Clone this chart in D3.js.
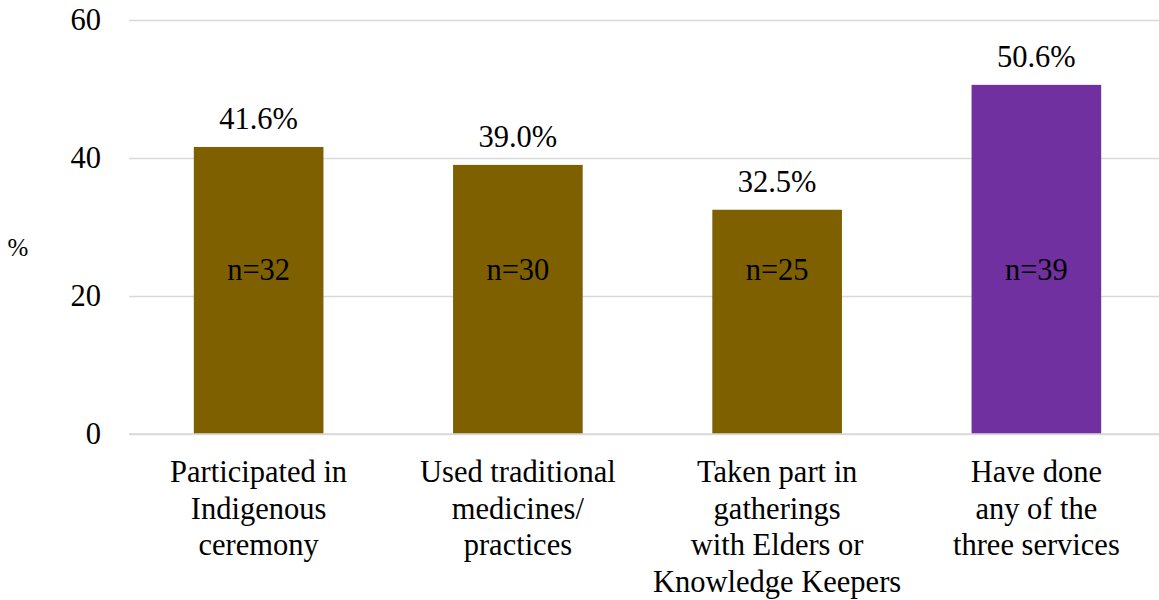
<!DOCTYPE html>
<html>
<head>
<meta charset="utf-8">
<script src="https://cdn.jsdelivr.net/npm/d3@7"></script>
</head>
<body style="margin:0;padding:0;background:#fff">
<svg id="chart" width="1159" height="600" style="display:block;background:#fff"></svg>
<script>
const categories = [
  ["Participated in", "Indigenous", "ceremony"],
  ["Used traditional", "medicines/", "practices"],
  ["Taken part in", "gatherings", "with Elders or", "Knowledge Keepers"],
  ["Have done", "any of the", "three services"]
];
const values = [41.6, 39.0, 32.5, 50.6];
const counts = ["n=32", "n=30", "n=25", "n=39"];
const barColors = ["#7F6000", "#7F6000", "#7F6000", "#7030A0"];
const yTicks = [0, 20, 40, 60];
const countLabelLevel = 22.3;

(function () {
const FONT = "Liberation Serif";
const FS = "30.5px";
const svg = d3.select("#chart");
const mLeft = 129, mRight = 1166, mTop = 20, mBottom = 434;

function styleText(sel, size) {
  return sel.style("font-family", FONT, "important")
    .style("font-size", size || FS, "important")
    .attr("fill", "#000");
}

const x = d3.scaleBand()
  .domain(d3.range(values.length))
  .range([mLeft, mRight])
  .paddingInner(0.5)
  .paddingOuter(0.25);

const y = d3.scaleLinear().domain([0, 60]).range([mBottom, mTop]);

// gridlines (axis) - lines only, labels drawn separately
const yAxis = d3.axisLeft(y).tickValues(yTicks).tickSize(-(mRight - mLeft)).tickFormat("");
const gy = svg.append("g").attr("transform", `translate(${mLeft},0)`).call(yAxis);
gy.select(".domain").remove();
gy.selectAll(".tick line").attr("stroke", "#d9d9d9").attr("stroke-width", 1.5);
gy.selectAll(".tick text").remove();

// y tick labels
styleText(svg.selectAll("text.ytick")
  .data(yTicks)
  .join("text")
  .attr("class", "ytick")
  .attr("x", mLeft - 28)
  .attr("y", d => y(d))
  .attr("dy", "0.33em")
  .attr("text-anchor", "end")
  .text(d => d));

// bars
svg.append("g").selectAll("rect")
  .data(values)
  .join("rect")
  .attr("x", (d, i) => x(i))
  .attr("y", d => y(d))
  .attr("width", x.bandwidth())
  .attr("height", d => y(0) - y(d))
  .attr("fill", (d, i) => barColors[i]);

// baseline on top of bars
svg.append("line")
  .attr("x1", mLeft).attr("x2", mRight)
  .attr("y1", y(0)).attr("y2", y(0))
  .attr("stroke", "#d9d9d9").attr("stroke-width", 1.5);

// value labels
styleText(svg.selectAll("text.val")
  .data(values)
  .join("text")
  .attr("class", "val")
  .attr("x", (d, i) => x(i) + x.bandwidth() / 2)
  .attr("y", d => y(d) - 18)
  .attr("text-anchor", "middle")
  .text(d => d.toFixed(1) + "%"));

// count labels
styleText(svg.selectAll("text.cnt")
  .data(counts)
  .join("text")
  .attr("class", "cnt")
  .attr("x", (d, i) => x(i) + x.bandwidth() / 2)
  .attr("y", y(countLabelLevel))
  .attr("text-anchor", "middle")
  .text(d => d));

// category labels
const cat = styleText(svg.selectAll("text.cat")
  .data(categories)
  .join("text")
  .attr("class", "cat")
  .attr("x", (d, i) => x(i) + x.bandwidth() / 2)
  .attr("y", mBottom + 48)
  .attr("text-anchor", "middle"));
cat.selectAll("tspan")
  .data(d => d)
  .join("tspan")
  .attr("x", function () { return d3.select(this.parentNode).attr("x"); })
  .attr("dy", (d, i) => i === 0 ? 0 : 36.7)
  .style("font-family", FONT, "important")
  .text(d => d);

// y axis title
styleText(svg.append("text")
  .attr("x", 18)
  .attr("y", 256)
  .attr("text-anchor", "middle")
  .text("%"), "25px");
})();
</script>
</body>
</html>
